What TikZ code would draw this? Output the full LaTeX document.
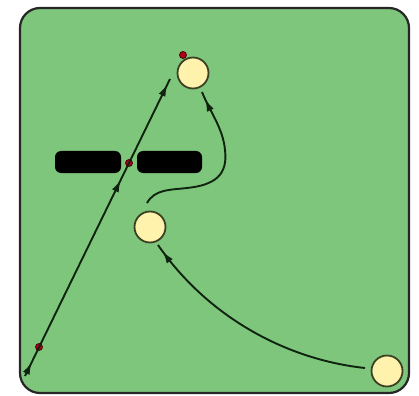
\documentclass[tikz,border=0pt]{standalone}
\usetikzlibrary{arrows.meta,decorations.markings}
\definecolor{bggreen}{RGB}{126,198,124}
\definecolor{nodefill}{RGB}{255,242,172}
\definecolor{nodeline}{RGB}{60,65,35}
\definecolor{dotred}{RGB}{175,0,20}
\definecolor{wire}{RGB}{15,35,15}
\tikzset{
  frame/.style={draw=black!85, line width=2.2pt, fill=bggreen, rounded corners=20pt},
  ball/.style={circle, draw=nodeline, line width=1.8pt, fill=nodefill, minimum size=31pt, inner sep=0pt},
  bar/.style={rectangle, fill=black, rounded corners=6pt, minimum height=22pt, inner sep=0pt},
  reddot/.style={circle, fill=dotred, draw=black!55!dotred, line width=0.8pt, minimum size=7pt, inner sep=0pt},
  wireline/.style={draw=wire, line width=1.9pt},
  wiretip/.tip={Latex[length=12pt,width=7.5pt]}
}
\begin{document}
\begin{tikzpicture}[x=1pt,y=-1pt]
\useasboundingbox (0,0) rectangle (419,395);
\path[frame] (20,8) rectangle (409,393);
% bars
\node[bar, minimum width=66pt] (barL) at (88,162) {};
\node[bar, minimum width=65pt] (barR) at (169.5,162) {};
% balls
\node[ball] (top) at (193,73) {};
\node[ball] (mid) at (150,227) {};
\node[ball] (br) at (387,371) {};
% red dots
\node[reddot] (dtop) at (183,55) {};
\node[reddot] (dmid) at (129,163) {};
\node[reddot] (dbot) at (39,347) {};
% connector 1
\coordinate (c0) at (25,376);
\coordinate (c1) at (170,79);
\draw[wireline, postaction={decorate}, decoration={markings,
    mark=at position 15pt with {\arrow[wire]{wiretip}},
    mark=at position 218pt with {\arrow[wire]{wiretip}},
    mark=at position -6pt with {\arrow[wire]{wiretip}}}]
  (c0) -- (c1);
% connector 2: mid -> top
\coordinate (m1) at (147,203);
\coordinate (t1) at (202,92);
\draw[wireline, postaction={decorate}, decoration={markings,
    mark=at position -8pt with {\arrow[wire]{wiretip}}}]
  (m1) .. controls (155,189) and (170,190) .. (187,188)
       .. controls (215,185) and (228,175) .. (225,150)
       .. controls (223,128) and (210,112) .. (t1);
% connector 3: br -> mid
\coordinate (b1) at (365,368);
\coordinate (m2) at (158,245);
\draw[wireline, postaction={decorate}, decoration={markings,
    mark=at position -8pt with {\arrow[wire]{wiretip}}}]
  (b1) .. controls (290,360) and (210,320) .. (m2);
\end{tikzpicture}
\end{document}
